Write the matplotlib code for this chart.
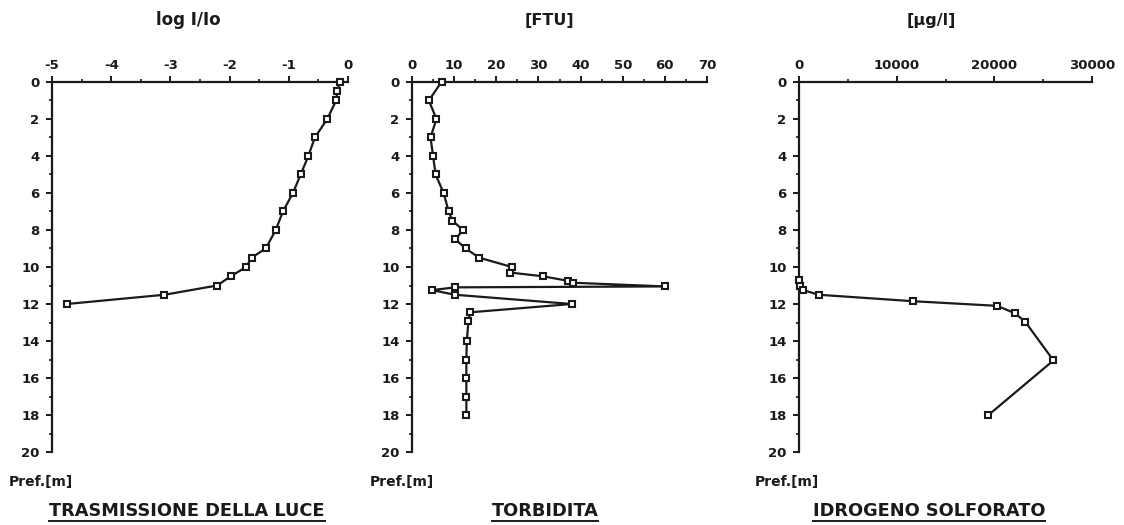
import matplotlib
matplotlib.use("Agg")
import matplotlib.pyplot as plt
from matplotlib.ticker import MultipleLocator
from matplotlib.lines import Line2D

plt.rcParams['font.family'] = ['DejaVu Sans']
plt.rcParams['font.weight'] = 'bold'
plt.rcParams['axes.unicode_minus'] = False

# ---- data ----
light_depth = [0, 0.5, 1, 2, 3, 4, 5, 6, 7, 8, 9, 9.5, 10, 10.5, 11, 11.5, 12]
light_logI = [-0.14, -0.18, -0.2, -0.35, -0.56, -0.67, -0.80, -0.93, -1.10,
              -1.22, -1.39, -1.63, -1.72, -1.98, -2.21, -3.10, -4.75]

turb_depth = [0, 1, 2, 3, 4, 5, 6, 7, 7.5, 8, 8.5, 9, 9.5, 10, 10.3, 10.5,
              10.75, 10.85, 11.05, 11.1, 11.25, 11.5, 12, 12.45, 12.9, 14, 15, 16, 17, 18]
turb_ftu = [7, 4, 5.8, 4.4, 5.0, 5.6, 7.5, 8.7, 9.6, 12.1, 10.3, 12.7, 16.0,
            23.7, 23.3, 31.0, 37.1, 38.1, 60.1, 10.2, 4.7, 10.2, 37.9, 13.8,
            13.4, 13.0, 12.9, 12.9, 12.9, 12.9]

h2s_depth = [10.7, 11.0, 11.25, 11.5, 11.85, 12.1, 12.5, 12.95, 15.05, 18.0]
h2s_ugl = [0, 100, 450, 2000, 11700, 20300, 22100, 23150, 26050, 19400]

headers = ["log I/Io", "[FTU]", "[\u00b5g/l]"]
titles = ["TRASMISSIONE DELLA LUCE", "TORBIDITA", "IDROGENO SOLFORATO"]
ylabel = "Pref.[m]"

W, H = 1124, 525
fig = plt.figure(figsize=(W / 100, H / 100), dpi=100)
fig.patch.set_facecolor('white')

ink = '#1a1a1a'

# axes pixel boxes: (left, right)
boxes = [(52, 348), (412, 707), (799, 1092)]
top_px, bot_px = 82, 452

xlims = [(-5, 0), (0, 70), (0, 30000)]
xmaj = [1, 10, 10000]
xmin = [0.5, 5, 5000]
datasets = [(light_logI, light_depth), (turb_ftu, turb_depth), (h2s_ugl, h2s_depth)]
header_x = [188, 549, 931]
header_size = [12, 11.5, 11.5]
title_x = [187, 545, 929]
pref_x = [9, 370, 755]

axes = []
for i, (l, r) in enumerate(boxes):
    ax = fig.add_axes([l / W, 1 - bot_px / H, (r - l) / W, (bot_px - top_px) / H])
    axes.append(ax)
    xv, yv = datasets[i]
    ax.plot(xv, yv, color=ink, lw=1.6, marker='s', ms=4.6, mfc='white',
            mec=ink, mew=1.5, clip_on=False, zorder=3)
    ax.set_xlim(*xlims[i])
    ax.set_ylim(20, 0)
    ax.xaxis.set_major_locator(MultipleLocator(xmaj[i]))
    ax.xaxis.set_minor_locator(MultipleLocator(xmin[i]))
    ax.yaxis.set_major_locator(MultipleLocator(2))
    ax.yaxis.set_minor_locator(MultipleLocator(1))
    ax.xaxis.tick_top()
    for s in ['right', 'bottom']:
        ax.spines[s].set_visible(False)
    for s in ['left', 'top']:
        ax.spines[s].set_linewidth(1.6)
        ax.spines[s].set_color(ink)
    ax.tick_params(axis='x', which='major', direction='out', length=4.5, width=1.4,
                   pad=3, labelsize=9.5, colors=ink)
    ax.tick_params(axis='x', which='minor', direction='out', length=2.5, width=1.2, colors=ink)
    ax.tick_params(axis='y', which='major', direction='out', length=4.5, width=1.4,
                   pad=4.5, labelsize=9.5, colors=ink)
    ax.tick_params(axis='y', which='minor', direction='out', length=2.5, width=1.2, colors=ink)
    for lab in ax.get_xticklabels() + ax.get_yticklabels():
        lab.set_fontweight('bold')
    ax.set_facecolor('none')

    fig.text(header_x[i] / W, 1 - 20 / H, headers[i], ha='center', va='center',
             fontsize=header_size[i], fontweight='bold', color=ink)
    fig.text(pref_x[i] / W, 1 - 482 / H, ylabel, ha='left', va='center',
             fontsize=10, fontweight='bold', color=ink)

title_texts = []
for i in range(3):
    t = fig.text(title_x[i] / W, 1 - 511 / H, titles[i], ha='center', va='center',
                 fontsize=12.8, fontweight='bold', color=ink)
    title_texts.append(t)

fig.canvas.draw()
renderer = fig.canvas.get_renderer()
for t in title_texts:
    bb = t.get_window_extent(renderer)
    y = (bb.y0 - 0.5) / H
    fig.add_artist(Line2D([bb.x0 / W, bb.x1 / W], [y, y], color=ink, lw=1.4,
                          transform=fig.transFigure))

fig.savefig("out.png", dpi=100, facecolor='white')
